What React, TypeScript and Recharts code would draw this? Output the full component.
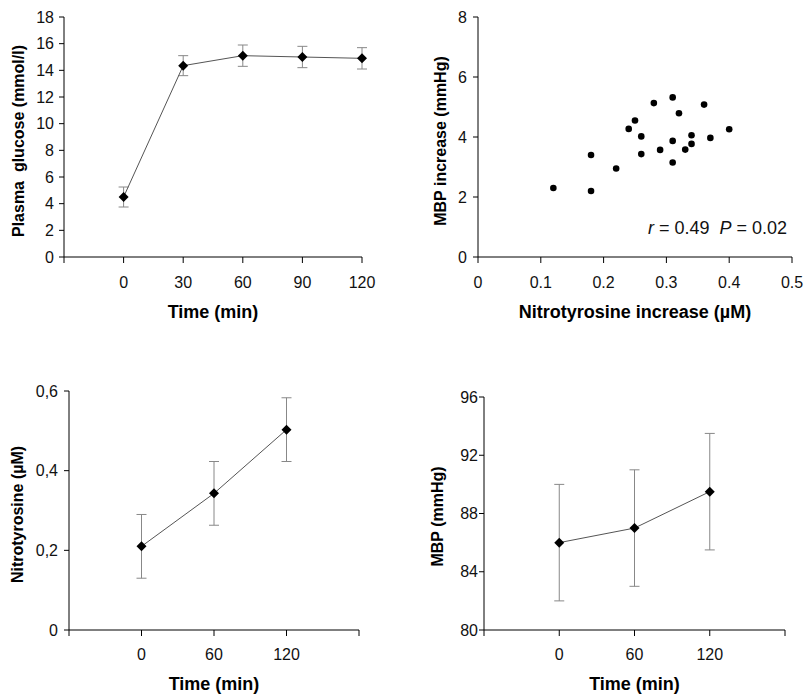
import React from 'react';
import { LineChart, Line, ScatterChart, Scatter, XAxis, YAxis, ErrorBar, Label } from 'recharts';

const FONT = '"Liberation Sans", Arial, sans-serif';

// Plasma glucose (mmol/l) over time
const glucoseTime = [0, 30, 60, 90, 120];
const glucoseMean = [4.5, 14.35, 15.1, 15.0, 14.9];
const glucoseSd = [0.75, 0.75, 0.8, 0.8, 0.8];

// Nitrotyrosine (µM) over time
const nitroTime = [0, 60, 120];
const nitroMean = [0.21, 0.343, 0.503];
const nitroSd = [0.08, 0.08, 0.08];

// MBP (mmHg) over time
const mbpTime = [0, 60, 120];
const mbpMean = [86, 87, 89.5];
const mbpSd = [4, 4, 4];

// scatter: nitrotyrosine increase vs MBP increase
const nitroIncrease = [0.12, 0.18, 0.18, 0.22, 0.24, 0.25, 0.26, 0.26, 0.28, 0.29, 0.31, 0.31, 0.31, 0.32, 0.33, 0.34, 0.34, 0.36, 0.37, 0.4];
const mbpIncrease = [2.3, 3.4, 2.2, 2.95, 4.27, 4.55, 4.02, 3.43, 5.13, 3.57, 5.32, 3.87, 3.15, 4.79, 3.58, 4.06, 3.77, 5.08, 3.97, 4.26];

const glucoseTicks = [0, 2, 4, 6, 8, 10, 12, 14, 16, 18];
const nitroTicks = [0, 0.2, 0.4, 0.6];
const mbpTicks = [80, 84, 88, 92, 96];
const scatterXTicks = [0, 0.1, 0.2, 0.3, 0.4, 0.5];
const scatterYTicks = [0, 2, 4, 6, 8];

const glucoseData = glucoseTime.map((t, i) => ({ time: t, mean: glucoseMean[i], sd: glucoseSd[i] }));
const nitroData = nitroTime.map((t, i) => ({ time: t, mean: nitroMean[i], sd: nitroSd[i] }));
const mbpData = mbpTime.map((t, i) => ({ time: t, mean: mbpMean[i], sd: mbpSd[i] }));
const scatterData = nitroIncrease.map((x, i) => ({ x, y: mbpIncrease[i] }));

const tickStyle = { fill: '#111', fontSize: 16, fontFamily: FONT };
const axisLine = { stroke: '#000', strokeWidth: 1 };

const renderDiamond = (props: any) => {
  const { cx, cy, index } = props;
  if (cx == null || cy == null) return <g key={index} />;
  const s = 5;
  return (
    <path
      key={index}
      d={`M${cx},${cy - s}L${cx + s},${cy}L${cx},${cy + s}L${cx - s},${cy}Z`}
      fill="#000"
    />
  );
};

const renderDot = (props: any) => <circle cx={props.cx} cy={props.cy} r={3.3} fill="#000" />;

const yTitle = (text: string, dx: number, shift: number) => (props: any) => {
  const vb = props.viewBox || {};
  const x = (vb.x || 0) + dx;
  const y = vb.y + vb.height / 2 + shift;
  return (
    <text
      x={x}
      y={y}
      transform={`rotate(-90, ${x}, ${y})`}
      textAnchor="middle"
      dominantBaseline="central"
      fontFamily={FONT}
      fontSize={16}
      fontWeight="bold"
      fill="#000"
    >
      {text}
    </text>
  );
};

const xTitle = (text: string) => (
  <Label
    value={text}
    position="insideBottom"
    offset={5}
    fontFamily={FONT}
    fontSize={18}
    fontWeight="bold"
    fill="#000"
  />
);

const timeFormat = (lo: number, hi: number) => (v: number) => (v < lo || v > hi ? '' : String(v));

export default function App() {
  return (
    <div style={{ position: 'absolute', left: 0, top: 0, width: 805, height: 695, background: '#fff', fontFamily: FONT }}>
      <div style={{ position: 'absolute', left: 0, top: 0 }}>
        <LineChart width={400} height={330} data={glucoseData} margin={{ top: 17, right: 38, left: 0, bottom: 7 }}>
          <XAxis
            type="number"
            dataKey="time"
            domain={[-30, 120]}
            ticks={[-30, 0, 30, 60, 90, 120]}
            tickFormatter={timeFormat(0, 120)}
            height={66}
            tickSize={6}
            tickMargin={14}
            tick={tickStyle}
            axisLine={axisLine}
            tickLine={axisLine}
          >
            {xTitle('Time (min)')}
          </XAxis>
          <YAxis
            type="number"
            domain={[0, 18]}
            ticks={glucoseTicks}
            width={64}
            tickSize={5}
            tickMargin={5}
            tick={tickStyle}
            axisLine={axisLine}
            tickLine={axisLine}
          >
            <Label content={yTitle('Plasma\u00A0 glucose (mmol/l)', 18, 4)} />
          </YAxis>
          <Line dataKey="mean" stroke="#555" strokeWidth={1} dot={renderDiamond} activeDot={false} isAnimationActive={false}>
            <ErrorBar dataKey="sd" width={5} stroke="#888" strokeWidth={1} direction="y" isAnimationActive={false} />
          </Line>
        </LineChart>
      </div>

      <div style={{ position: 'absolute', left: 400, top: 0 }}>
        <ScatterChart width={405} height={330} margin={{ top: 17, right: 13, left: 0, bottom: 7 }}>
          <XAxis
            type="number"
            dataKey="x"
            domain={[0, 0.5]}
            ticks={scatterXTicks}
            height={66}
            tickSize={6}
            tickMargin={14}
            tick={tickStyle}
            axisLine={axisLine}
            tickLine={axisLine}
          >
            {xTitle('Nitrotyrosine increase (µM)')}
          </XAxis>
          <YAxis
            type="number"
            dataKey="y"
            domain={[0, 8]}
            ticks={scatterYTicks}
            width={78}
            tickSize={5}
            tickMargin={6}
            tick={tickStyle}
            axisLine={axisLine}
            tickLine={axisLine}
          >
            <Label content={yTitle('MBP increase (mmHg)', 40, 4)} />
          </YAxis>
          <Scatter data={scatterData} fill="#000" shape={renderDot} isAnimationActive={false} />
        </ScatterChart>
        <div style={{ position: 'absolute', left: 248, top: 219, fontSize: 18, lineHeight: '18px', color: '#111', whiteSpace: 'pre' }}>
          <i>r</i> = 0.49{'  '}<i>P</i> = 0.02
        </div>
      </div>

      <div style={{ position: 'absolute', left: 0, top: 360 }}>
        <LineChart width={400} height={335} data={nitroData} margin={{ top: 31, right: 41, left: 0, bottom: 0 }}>
          <XAxis
            type="number"
            dataKey="time"
            domain={[-60, 180]}
            ticks={[-60, 0, 60, 120, 180]}
            tickFormatter={timeFormat(0, 120)}
            height={65}
            tickSize={6}
            tickMargin={13}
            tick={tickStyle}
            axisLine={axisLine}
            tickLine={axisLine}
          >
            {xTitle('Time (min)')}
          </XAxis>
          <YAxis
            type="number"
            domain={[0, 0.6]}
            ticks={nitroTicks}
            tickFormatter={(v: number) => String(v).replace('.', ',')}
            width={69}
            tickSize={5}
            tickMargin={6}
            tick={tickStyle}
            axisLine={axisLine}
            tickLine={axisLine}
          >
            <Label content={yTitle('Nitrotyrosine (µM)', 17, 4)} />
          </YAxis>
          <Line dataKey="mean" stroke="#555" strokeWidth={1} dot={renderDiamond} activeDot={false} isAnimationActive={false}>
            <ErrorBar dataKey="sd" width={5} stroke="#888" strokeWidth={1} direction="y" isAnimationActive={false} />
          </Line>
        </LineChart>
      </div>

      <div style={{ position: 'absolute', left: 400, top: 360 }}>
        <LineChart width={405} height={335} data={mbpData} margin={{ top: 37, right: 20, left: 0, bottom: 0 }}>
          <XAxis
            type="number"
            dataKey="time"
            domain={[-60, 180]}
            ticks={[-60, 0, 60, 120, 180]}
            tickFormatter={timeFormat(0, 120)}
            height={65}
            tickSize={6}
            tickMargin={13}
            tick={tickStyle}
            axisLine={axisLine}
            tickLine={axisLine}
          >
            {xTitle('Time (min)')}
          </XAxis>
          <YAxis
            type="number"
            domain={[80, 96]}
            ticks={mbpTicks}
            width={84}
            tickSize={5}
            tickMargin={1}
            tick={tickStyle}
            axisLine={axisLine}
            tickLine={axisLine}
          >
            <Label content={yTitle('MBP (mmHg)', 37, 3)} />
          </YAxis>
          <Line dataKey="mean" stroke="#555" strokeWidth={1} dot={renderDiamond} activeDot={false} isAnimationActive={false}>
            <ErrorBar dataKey="sd" width={5} stroke="#888" strokeWidth={1} direction="y" isAnimationActive={false} />
          </Line>
        </LineChart>
      </div>
    </div>
  );
}
